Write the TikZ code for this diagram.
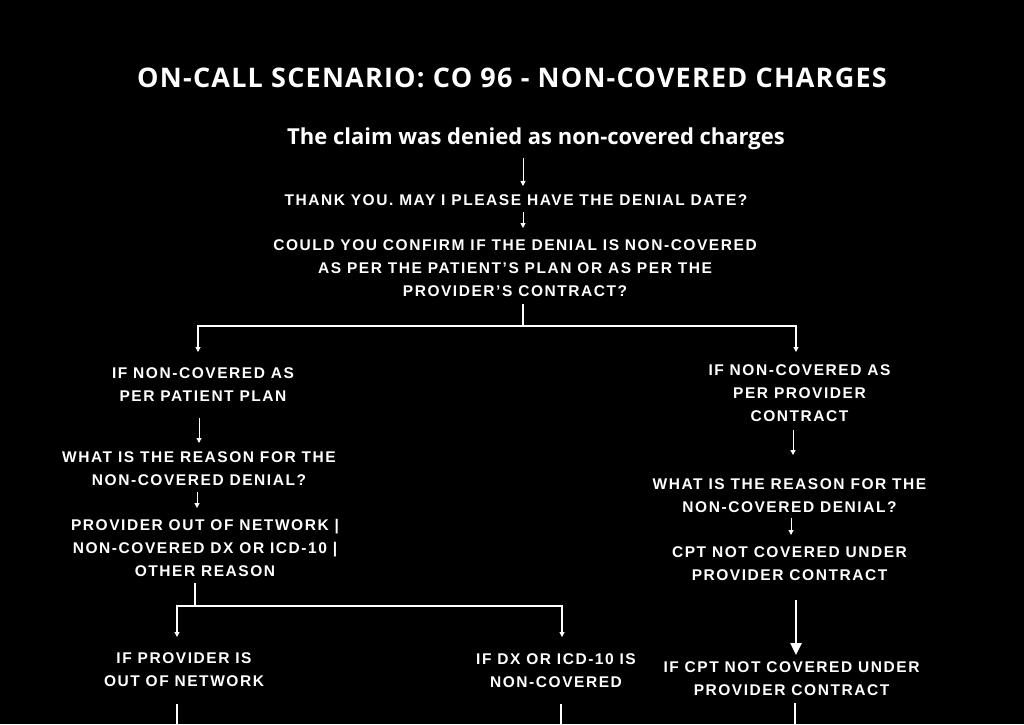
\documentclass[tikz,border=0pt]{standalone}
\usepackage{fontspec}
\setmainfont{Liberation Sans}
\newfontfamily\titlefont{Open Sans}
\newfontfamily\titlefontsp{Open Sans}[LetterSpace=4.5]
\newfontfamily\bodyfont{Liberation Sans}[LetterSpace=10]
\usetikzlibrary{arrows.meta}
\begin{document}
\begin{tikzpicture}[x=1pt,y=-1pt,
  titlest/.style={text=white, inner sep=0pt, font=\titlefontsp\bfseries\fontsize{27}{32}\selectfont},
  subst/.style={text=white, inner sep=0pt, font=\titlefont\bfseries\fontsize{22}{26}\selectfont},
  txt/.style={text=white, inner sep=0pt, align=center, font=\bodyfont\bfseries\fontsize{15.5}{23}\selectfont},
  conn/.style={draw=white, line width=1pt, -{Triangle[width=5pt,length=5pt]}},
  branch/.style={draw=white, line width=1.6pt},
  bigconn/.style={draw=white, line width=2.4pt, -{Triangle[width=11pt,length=12pt]}},
  stub/.style={draw=white, line width=1.6pt}]
\fill[black] (0,0) rectangle (1024,724);
\useasboundingbox (0,0) rectangle (1024,724);

% top
\node[titlest, anchor=base] (title) at (512,87) {ON-CALL SCENARIO: CO 96 - NON-COVERED CHARGES};
\node[subst, anchor=base] (sub) at (536,144) {The claim was denied as non-covered charges};
\node[txt, anchor=base] (thank) at (516,205) {THANK YOU. MAY I PLEASE HAVE THE DENIAL DATE?};
\node[txt, anchor=north] (confirm) at (515,239) {COULD YOU CONFIRM IF THE DENIAL IS NON-COVERED\\AS PER THE PATIENT’S PLAN OR AS PER THE\\PROVIDER’S CONTRACT?};

% left branch
\node[txt, anchor=north] (lif) at (203,367) {IF NON-COVERED AS\\PER PATIENT PLAN};
\node[txt, anchor=north] (lwhat) at (199,451) {WHAT IS THE REASON FOR THE\\NON-COVERED DENIAL?};
\node[txt, anchor=north] (lprov) at (205,519) {PROVIDER OUT OF NETWORK |\\NON-COVERED DX OR ICD-10 |\\OTHER REASON};
\node[txt, anchor=north] (lout) at (184,652) {IF PROVIDER IS\\OUT OF NETWORK};
\node[txt, anchor=north] (ldx) at (556,653) {IF DX OR ICD-10 IS\\NON-COVERED};

% right branch
\node[txt, anchor=north] (rif) at (799.5,364) {IF NON-COVERED AS\\PER PROVIDER\\CONTRACT};
\node[txt, anchor=north] (rwhat) at (789.5,478) {WHAT IS THE REASON FOR THE\\NON-COVERED DENIAL?};
\node[txt, anchor=north] (rcpt) at (789.5,546) {CPT NOT COVERED UNDER\\PROVIDER CONTRACT};
\node[txt, anchor=north] (rcpt2) at (791.5,661) {IF CPT NOT COVERED UNDER\\PROVIDER CONTRACT};

% connectors top
\draw[conn] ([xshift=-13pt,yshift=-14pt]sub.base) -- ([xshift=7pt,yshift=8pt]thank.north);
\draw[conn] ([xshift=7pt,yshift=-7pt]thank.south) -- ([xshift=8pt,yshift=11pt]confirm.north);

\coordinate (s1) at (523,326);
\draw[branch] ([xshift=8pt,yshift=-8pt]confirm.south) -- (s1);
\draw[branch] (s1) -| ([xshift=-5pt,yshift=20pt]lif.north);
\draw[branch] (s1) -| ([xshift=-3.5pt,yshift=17pt]rif.north);
\draw[conn] ([xshift=-5pt,yshift=21pt]lif.north) -- ([xshift=-5pt,yshift=15pt]lif.north);
\draw[conn] ([xshift=-3.5pt,yshift=18pt]rif.north) -- ([xshift=-3.5pt,yshift=12pt]rif.north);

% left connectors
\draw[conn] ([xshift=-4pt,yshift=-17pt]lif.south) -- ([xshift=0pt,yshift=8pt]lwhat.north);
\draw[conn] ([xshift=-2pt,yshift=-7pt]lwhat.south) -- ([xshift=-8pt,yshift=11pt]lprov.north);

\coordinate (s2) at (195,606);
\draw[branch] ([xshift=-10pt,yshift=-6pt]lprov.south) -- (s2);
\draw[branch] (s2) -| ([xshift=-7pt,yshift=20pt]lout.north);
\draw[branch] (s2) -| ([xshift=6pt,yshift=21pt]ldx.north);
\draw[conn] ([xshift=-7pt,yshift=21pt]lout.north) -- ([xshift=-7pt,yshift=15pt]lout.north);
\draw[conn] ([xshift=6pt,yshift=22pt]ldx.north) -- ([xshift=6pt,yshift=16pt]ldx.north);

% right connectors
\draw[conn] ([xshift=-6.5pt,yshift=-9pt]rif.south) -- ([xshift=3.5pt,yshift=23pt]rwhat.north);
\draw[conn] ([xshift=1.5pt,yshift=-6pt]rwhat.south) -- ([xshift=1.5pt,yshift=11pt]rcpt.north);
\draw[bigconn] ([xshift=6.5pt,yshift=-20pt]rcpt.south) -- ([xshift=4.5pt,yshift=6pt]rcpt2.north);

% bottom stubs
\coordinate (e1) at (177,724);
\coordinate (e2) at (561,724);
\coordinate (e3) at (795,724);
\draw[stub] ([xshift=-7pt,yshift=-18pt]lout.south) -- (e1);
\draw[stub] ([xshift=5pt,yshift=-17pt]ldx.south) -- (e2);
\draw[stub] ([xshift=3.5pt,yshift=-8pt]rcpt2.south) -- (e3);
\end{tikzpicture}
\end{document}
